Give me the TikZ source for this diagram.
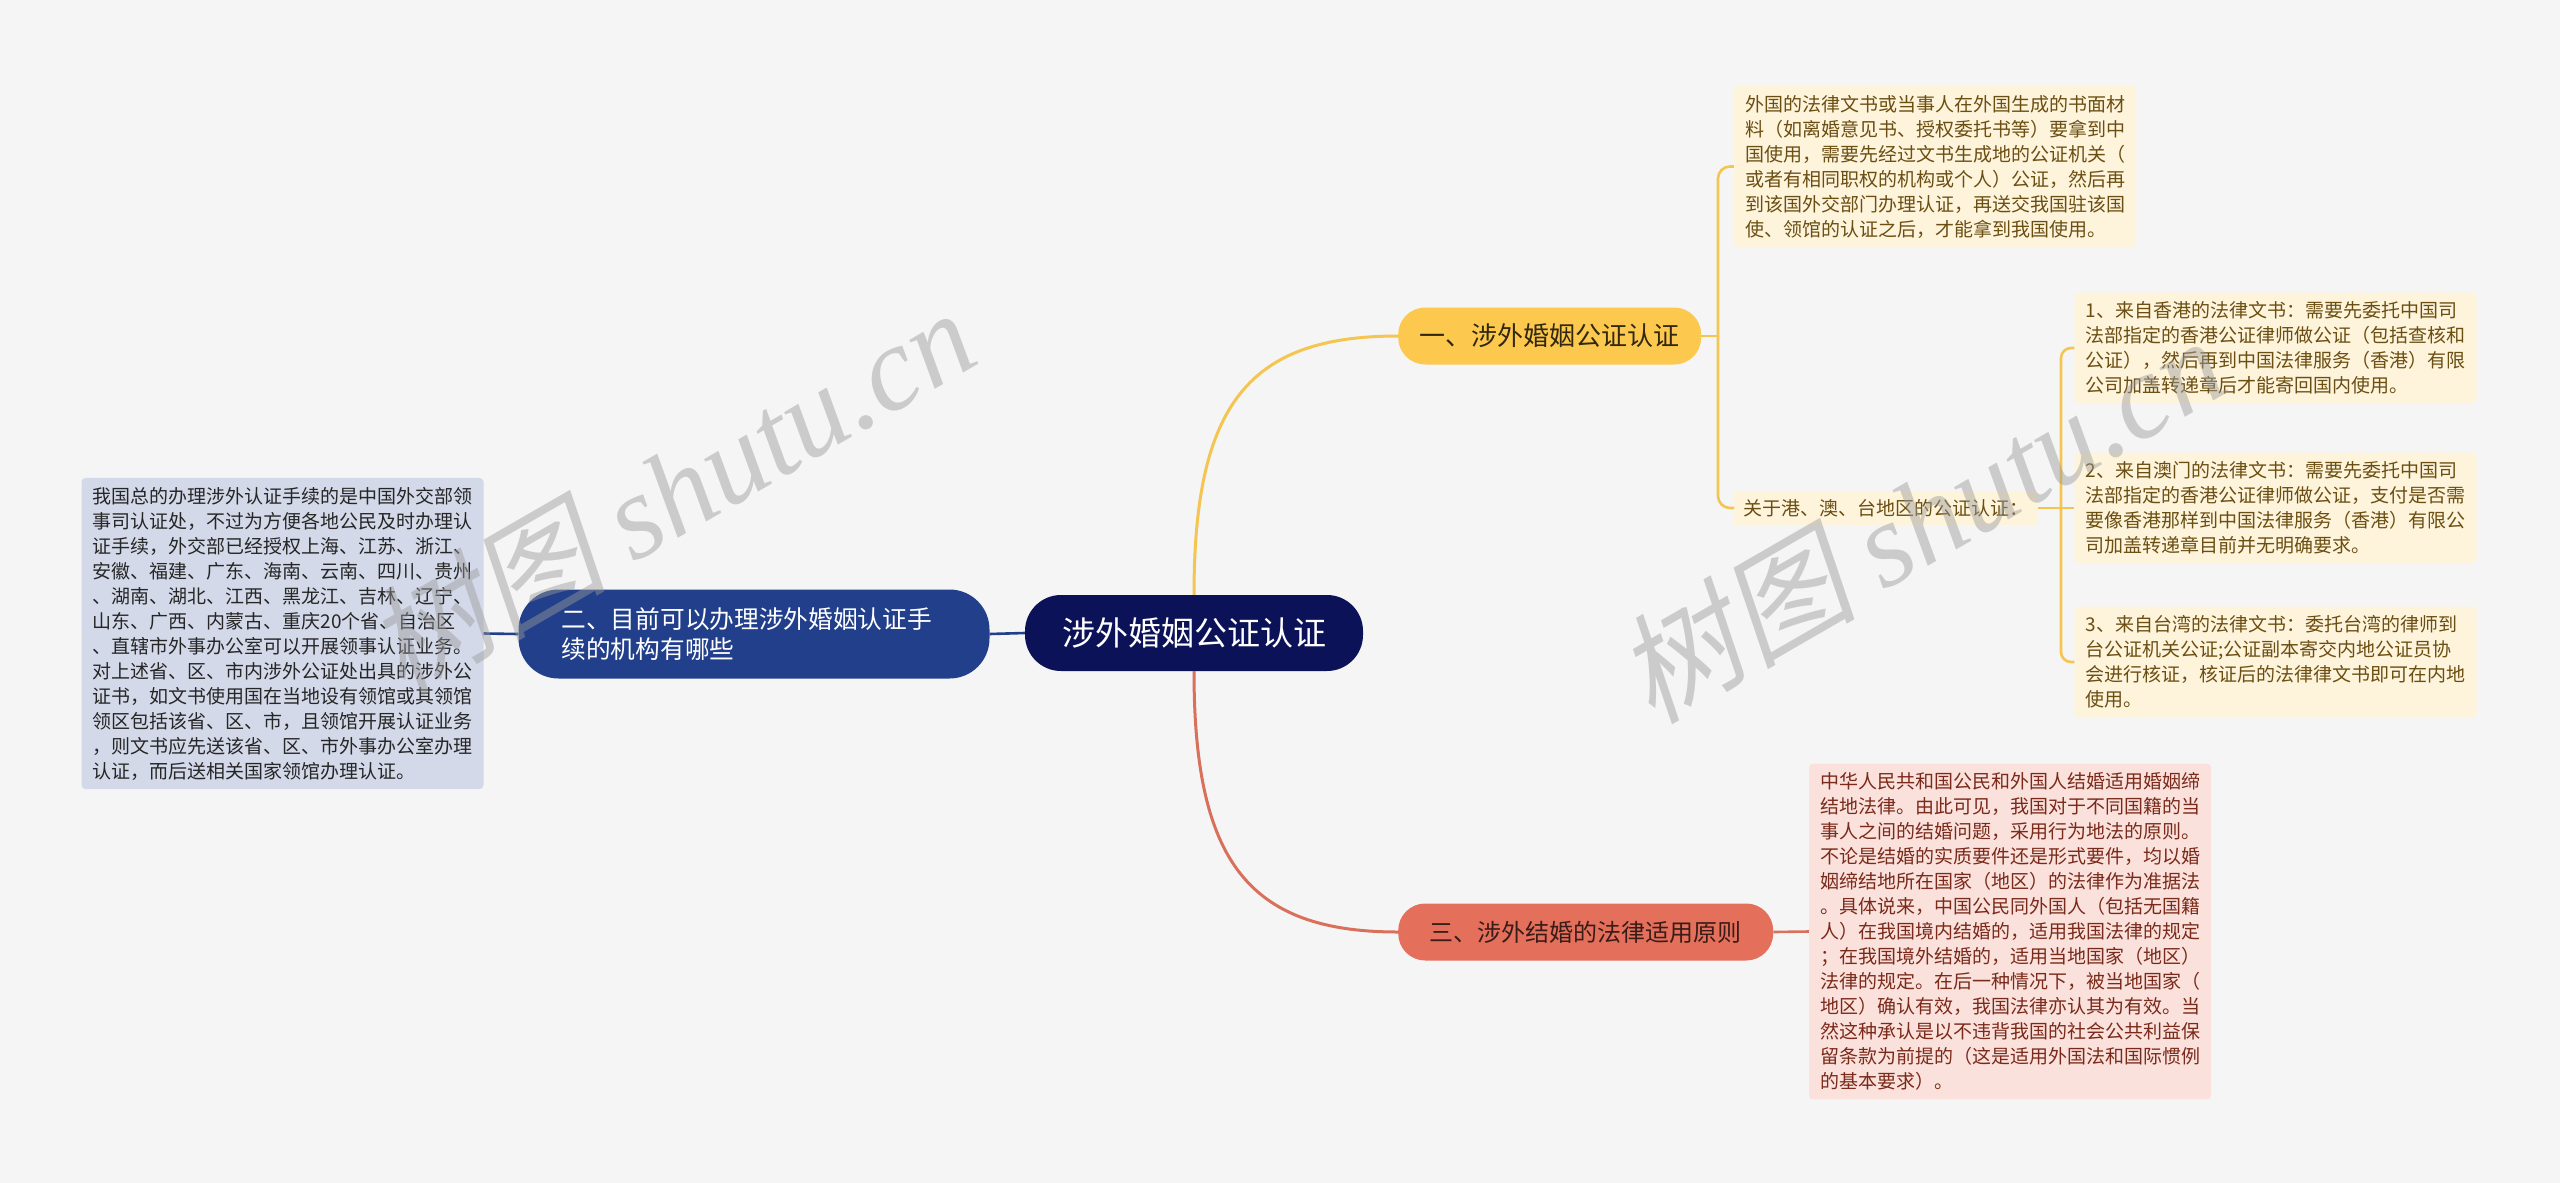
\documentclass[tikz,border=0pt]{standalone}
\usepackage{fontspec}
\usepackage{tikz}
\usetikzlibrary{positioning,calc}
\newfontfamily\cjk{Noto Sans CJK SC}
\newfontfamily\wmcjk[FakeSlant=0.2]{Noto Sans CJK SC}
\newfontfamily\wmlatin{Liberation Serif}

\definecolor{bgcol}{HTML}{F5F5F5}
\definecolor{rootcol}{HTML}{0C1257}
\definecolor{bluecol}{HTML}{213F8B}
\definecolor{bluebox}{HTML}{D3D9E9}
\definecolor{yelcol}{HTML}{FCC84E}
\definecolor{yelline}{HTML}{F4C551}
\definecolor{yelbox}{HTML}{FEF4DB}
\definecolor{yeltext}{HTML}{6B4E12}
\definecolor{redcol}{HTML}{E4705C}
\definecolor{redline}{HTML}{D9705B}
\definecolor{redbox}{HTML}{FBE1DC}
\definecolor{redtext}{HTML}{7A2A1A}
\definecolor{wmcol}{HTML}{9A9A9A}

\begin{document}
\begin{tikzpicture}[x=1pt,y=-1pt,
    every node/.style={inner sep=0pt},
    topic/.style={rounded corners=27pt, minimum height=57pt, align=center},
    note/.style={rounded corners=4pt, inner xsep=11pt, inner ysep=9pt, text width=380pt, align=left,
        font=\cjk\fontsize{19}{25}\selectfont},
    link/.style={line width=2.6pt},
    watermark/.style={text=wmcol, opacity=0.45, rotate=30, font=\wmcjk\fontsize{120}{125}\selectfont}]

    % canvas
    \fill[bgcol] (0,0) rectangle (2560,1183);
    \useasboundingbox (0,0) rectangle (2560,1183);

    % centre topic
    \node[fill=rootcol, text=white, rounded corners=36pt, minimum width=338pt, minimum height=76pt,
        font=\cjk\fontsize{33}{38}\selectfont] (root) at (1194,633) {涉外婚姻公证认证};

    % left branch
    \node[fill=bluecol, text=white, rounded corners=40pt, minimum width=471pt, minimum height=89pt,
        text width=385pt, align=left, font=\cjk\fontsize{24.7}{30}\selectfont] (inst) at (754,634)
        {二、目前可以办理涉外婚姻认证手\\续的机构有哪些};
    \node[note, fill=bluebox, text=black!85] (instnote) at (282.5,633.5)
        {我国总的办理涉外认证手续的是中国外交部领\\事司认证处，不过为方便各地公民及时办理认\\证手续，外交部已经授权上海、江苏、浙江、\\安徽、福建、广东、海南、云南、四川、贵州\\、湖南、湖北、江西、黑龙江、吉林、辽宁、\\山东、广西、内蒙古、重庆20个省、自治区\\、直辖市外事办公室可以开展领事认证业务。\\对上述省、区、市内涉外公证处出具的涉外公\\证书，如文书使用国在当地设有领馆或其领馆\\领区包括该省、区、市，且领馆开展认证业务\\，则文书应先送该省、区、市外事办公室办理\\认证，而后送相关国家领馆办理认证。};
    \draw[link, bluecol] (root.west) -- (inst.east);
    \draw[link, bluecol] (inst.west) -- (instnote.east);

    % upper right branch
    \node[topic, fill=yelcol, text=black!80!yelcol, anchor=west, minimum width=303pt,
        font=\cjk\fontsize{26}{30}\selectfont] (nota) at (1398,336) {一、涉外婚姻公证认证};
    \node[note, fill=yelbox, text=yeltext] (notanote) at (1935,166.5)
        {外国的法律文书或当事人在外国生成的书面材\\料（如离婚意见书、授权委托书等）要拿到中\\国使用，需要先经过文书生成地的公证机关（\\或者有相同职权的机构或个人）公证，然后再\\到该国外交部门办理认证，再送交我国驻该国\\使、领馆的认证之后，才能拿到我国使用。};
    \node[fill=yelbox, text=yeltext, inner xsep=9.5pt, inner ysep=8.5pt, anchor=west,
        font=\cjk\fontsize{19}{25}\selectfont] (hmt) at (1734,508) {关于港、澳、台地区的公证认证：};
    \node[note, fill=yelbox, text=yeltext] (hk) at (2275.5,348)
        {1、来自香港的法律文书：需要先委托中国司\\法部指定的香港公证律师做公证（包括查核和\\公证），然后再到中国法律服务（香港）有限\\公司加盖转递章后才能寄回国内使用。};
    \node[note, fill=yelbox, text=yeltext] (mo) at (2275.5,508)
        {2、来自澳门的法律文书：需要先委托中国司\\法部指定的香港公证律师做公证，支付是否需\\要像香港那样到中国法律服务（香港）有限公\\司加盖转递章目前并无明确要求。};
    \node[note, fill=yelbox, text=yeltext] (tw) at (2275.5,662)
        {3、来自台湾的法律文书：委托台湾的律师到\\台公证机关公证;公证副本寄交内地公证员协\\会进行核证，核证后的法律律文书即可在内地\\使用。};
    \draw[link, yelline, line width=3pt] (root.north) .. controls +(0,-190) and +(-150,0) .. (nota.west);
    \coordinate (forka) at (1718,336);
    \draw[link, yelline] (nota.east) -- (forka);
    \draw[link, yelline, rounded corners=12pt] (forka) |- (notanote.west);
    \draw[link, yelline, rounded corners=12pt] (forka) |- (hmt.west);
    \coordinate (forkb) at (2061,508);
    \draw[link, yelline] (hmt.east) -- (forkb);
    \draw[link, yelline, rounded corners=10pt] (forkb) |- (hk.west);
    \draw[link, yelline] (forkb) -- (mo.west);
    \draw[link, yelline, rounded corners=10pt] (forkb) |- (tw.west);

    % lower right branch
    \node[topic, fill=redcol, text=black!75!redcol, anchor=west, minimum width=375pt,
        font=\cjk\fontsize{24}{28}\selectfont] (law) at (1398,932) {三、涉外结婚的法律适用原则};
    \node[note, fill=redbox, text=redtext] (lawnote) at (2010,931.5)
        {中华人民共和国公民和外国人结婚适用婚姻缔\\结地法律。由此可见，我国对于不同国籍的当\\事人之间的结婚问题，采用行为地法的原则。\\不论是结婚的实质要件还是形式要件，均以婚\\姻缔结地所在国家（地区）的法律作为准据法\\。具体说来，中国公民同外国人（包括无国籍\\人）在我国境内结婚的，适用我国法律的规定\\；在我国境外结婚的，适用当地国家（地区）\\法律的规定。在后一种情况下，被当地国家（\\地区）确认有效，我国法律亦认其为有效。当\\然这种承认是以不违背我国的社会公共利益保\\留条款为前提的（这是适用外国法和国际惯例\\的基本要求）。};
    \draw[link, redline, line width=3pt] (root.south) .. controls +(0,190) and +(-150,0) .. (law.west);
    \draw[link, redline] (law.east) -- (lawnote.west);

    % watermarks
    \node[watermark] (wma) at (670,490) {树图 {\wmlatin\itshape shutu.cn}};
    \node[watermark] (wmb) at (1920,518) {树图 {\wmlatin\itshape shutu.cn}};
\end{tikzpicture}
\end{document}
